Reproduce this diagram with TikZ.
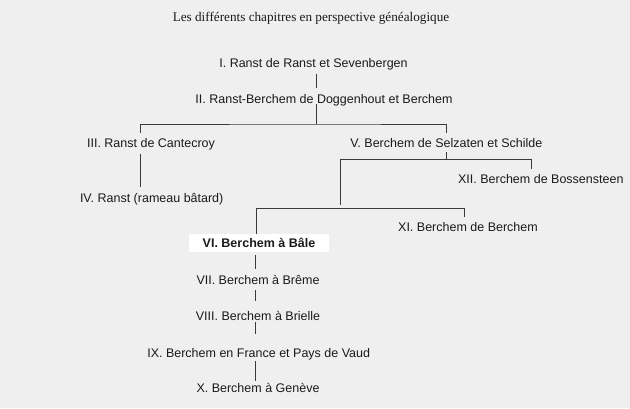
\documentclass[tikz,border=0pt]{standalone}
\usepackage{fontspec}
\setmainfont{Liberation Sans}
\newfontfamily\titlefont{Liberation Serif}
\definecolor{bg}{HTML}{EFEFEF}
\definecolor{txt}{HTML}{1A1A1A}
\definecolor{ln}{HTML}{3A3A3A}
\begin{document}
\begin{tikzpicture}[x=1pt,y=-1pt,
  lab/.style={font=\fontsize{12.5}{14}\selectfont, text=txt, inner sep=0pt,
    text height=9pt, text depth=0pt, minimum height=21pt},
  vibox/.style={font=\fontsize{12.5}{14}\selectfont\bfseries, text=txt, fill=white,
    inner sep=0pt, text height=9pt, text depth=0pt, minimum height=17.7pt, minimum width=140pt},
  titlestyle/.style={font=\titlefont\fontsize{13.2}{15}\selectfont, text=txt, inner sep=0pt},
  conn/.style={draw=ln, line width=0.9pt}]
\fill[bg] (0,0) rectangle (630,408);
\useasboundingbox (0,0) rectangle (630,408);

\node[titlestyle] (title) at (311,18) {Les différents chapitres en perspective généalogique};
\node[lab] (n1) at (313.5,63) {I. Ranst de Ranst et Sevenbergen};
\node[lab] (n2) at (324,98.7) {II. Ranst-Berchem de Doggenhout et Berchem};
\node[lab] (n3) at (151,143.3) {III. Ranst de Cantecroy};
\node[lab] (n4) at (151.7,197.7) {IV. Ranst (rameau bâtard)};
\node[lab] (n5) at (446.3,143.3) {V. Berchem de Selzaten et Schilde};
\node[lab] (n12) at (540.8,179.3) {XII. Berchem de Bossensteen};
\node[lab] (n11) at (468,227.3) {XI. Berchem de Berchem};
\node[vibox] (n6) at (259,243) {VI. Berchem à Bâle};
\node[lab] (n7) at (258,280) {VII. Berchem à Brême};
\node[lab] (n8) at (258,316) {VIII. Berchem à Brielle};
\node[lab] (n9) at (258.7,352.7) {IX. Berchem en France et Pays de Vaud};
\node[lab] (n10) at (258,387.7) {X. Berchem à Genève};

\coordinate (x1) at (316.7,124);
\coordinate (x3) at (140,0);
\coordinate (x2) at (446,159.3);
\coordinate (x12) at (531,0);
\coordinate (e1) at (340,204.5);
\coordinate (h3) at (256,208.3);
\coordinate (x11) at (464.5,0);
\coordinate (x6) at (255.7,0);

\draw[conn] (n1.south -| x1) -- (n2.north -| x1);
\draw[conn, shorten <=-5pt] (n2.south -| x1) -- (x1);
\draw[conn] (n3.north -| x3) |- (x1) -| (n5.north -| x2);
\draw[conn] (n3.south -| x3) -- (n4.north -| x3);
\draw[conn, shorten <=-2pt] (n5.south -| x2) -- (x2);
\draw[conn] (e1) |- (x2) -| (n12.north -| x12);
\draw[conn] (n6.north -| h3) -- (h3) -| (n11.north -| x11);
\draw[conn, shorten <=2.5pt] (n6.south -| x6) -- (n7.north -| x6);
\draw[conn, shorten <=-1pt, shorten >=4pt] (n7.south -| x6) -- (n8.north -| x6);
\draw[conn, shorten <=-4.8pt, shorten >=8pt] (n8.south -| x6) -- (n9.north -| x6);
\draw[conn, shorten <=-2pt, shorten >=-3.8pt] (n9.south -| x6) -- (n10.north -| x6);
\end{tikzpicture}
\end{document}
